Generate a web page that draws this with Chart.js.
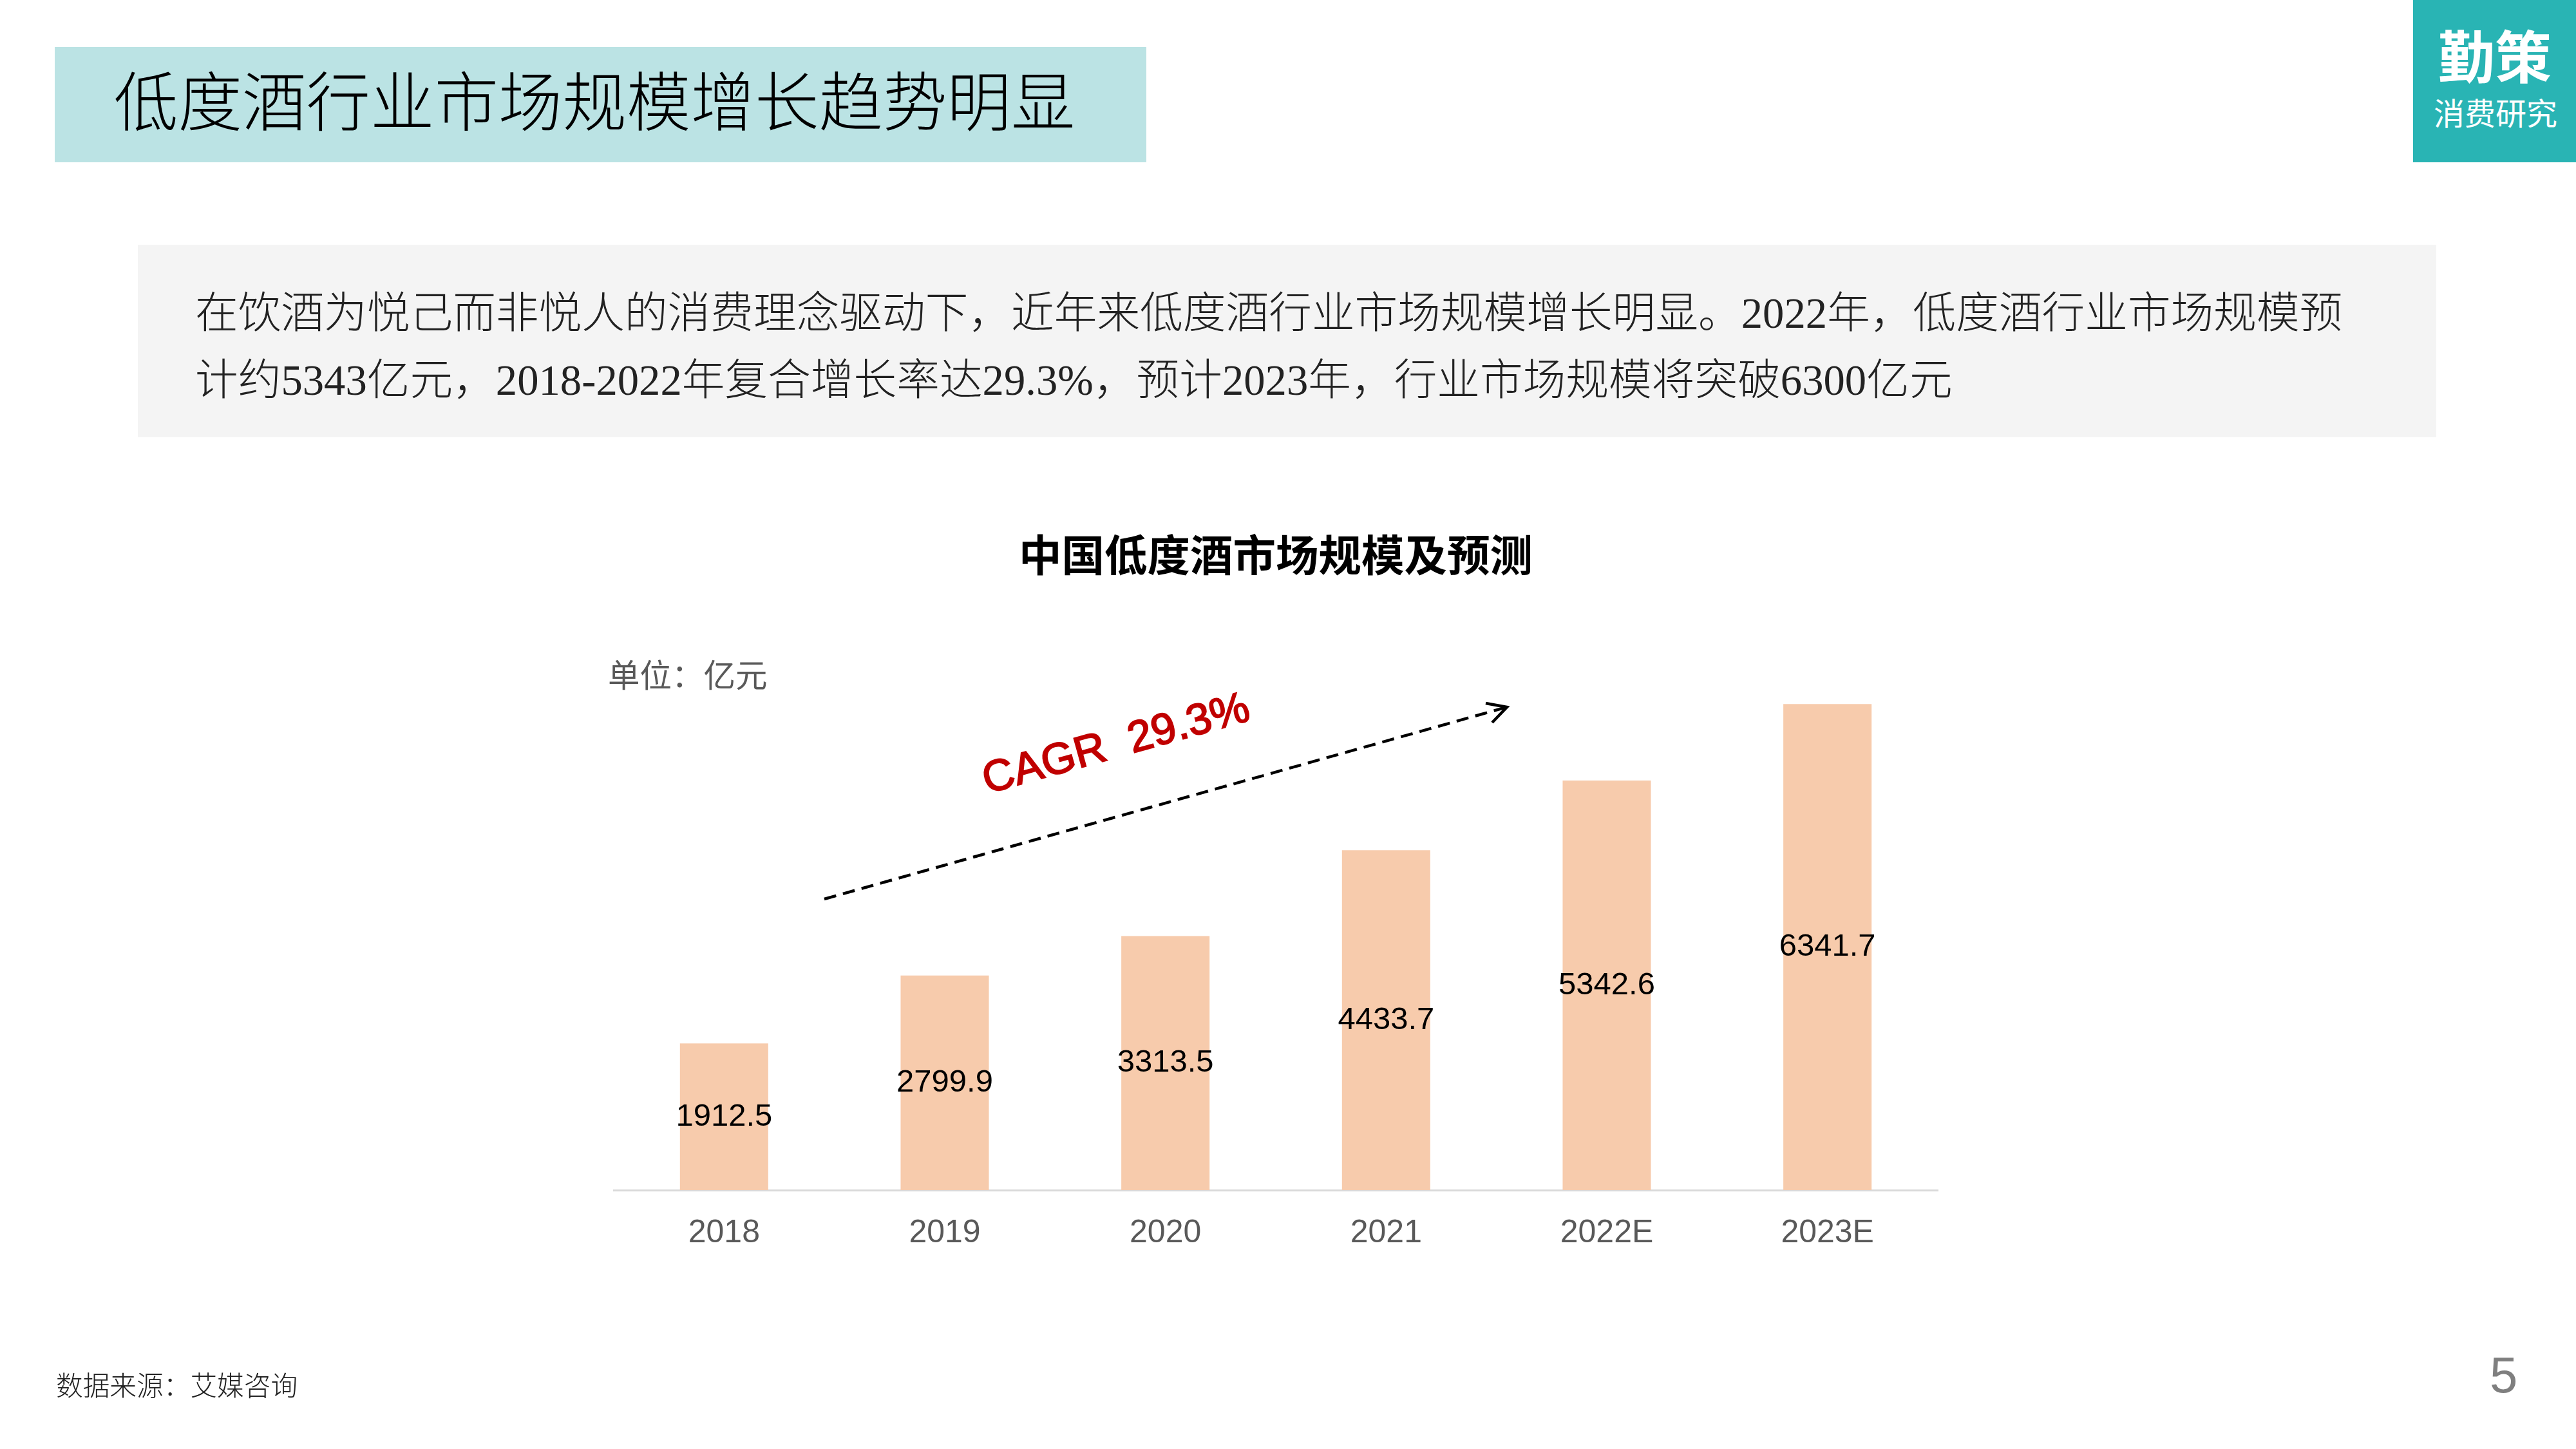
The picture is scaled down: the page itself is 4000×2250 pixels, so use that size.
<!DOCTYPE html>
<html lang="zh-CN">
<head>
    <meta charset="UTF-8">
    <title>低度酒行业市场规模增长趋势明显</title>
    <script src="https://cdn.jsdelivr.net/npm/chart.js"></script>
    <style>
        html, body { margin: 0; padding: 0; background: #fff; }
        body { position: relative; width: 4000px; height: 2250px; overflow: hidden; font-family: "Noto Sans CJK SC", sans-serif; }
        canvas { position: absolute; left: 0; top: 0; }
        .box { position: absolute; }
        .txt { position: absolute; white-space: nowrap; line-height: 1; }
        .body-line { font-family: "Liberation Serif", "Noto Sans CJK SC", serif; font-size: 66.7px; color: #222; font-weight: 300; }
        svg { position: absolute; left: 0; top: 0; }
    </style>
</head>
<body>
    <canvas id="marketChart" width="4000" height="2250"></canvas>

    <!-- slide furniture -->
    <div class="box" style="left:85px;top:73px;width:1695px;height:179px;background:#BBE3E4"></div>
    <div class="txt" style="left:177px;top:103px;font-size:99.5px;color:#000;font-weight:300">低度酒行业市场规模增长趋势明显</div>

    <div class="box" style="left:3747px;top:0;width:253px;height:252px;background:#29B4B4"></div>
    <div class="txt" style="left:3786px;top:39px;font-size:88px;color:#fff;font-weight:700">勤策</div>
    <div class="txt" style="left:3779px;top:149px;font-size:48px;color:#fff">消费研究</div>

    <div class="box" style="left:214px;top:380px;width:3569px;height:299px;background:#F4F4F4"></div>
    <div class="txt body-line" style="left:303px;top:454px">在饮酒为悦己而非悦人的消费理念驱动下，近年来低度酒行业市场规模增长明显。2022年，低度酒行业市场规模预</div>
    <div class="txt body-line" style="left:303px;top:558px">计约5343亿元，2018-2022年复合增长率达29.3%，预计2023年，行业市场规模将突破6300亿元</div>

    <div class="txt" style="left:944px;top:1021px;font-size:49.5px;color:#595959">单位：亿元</div>

    <div class="txt" style="left:1732px;top:1152px;font-size:68px;color:#C00000;font-family:'Liberation Sans';-webkit-text-stroke:2px #C00000;transform:translate(-50%,-50%) rotate(-15.6deg);white-space:pre">CAGR  29.3%</div>

    <svg width="4000" height="2250">
        <line x1="1280" y1="1396" x2="2336" y2="1099" stroke="#000" stroke-width="4.5" stroke-dasharray="19 11"/>
        <polyline points="2307,1092 2340,1098 2317,1122" fill="none" stroke="#000" stroke-width="4.5"/>
    </svg>

    <div class="txt" style="left:87px;top:2129px;font-size:41.7px;color:#222;font-weight:300">数据来源：艾媒咨询</div>
    <div class="txt" style="left:3866px;top:2096px;font-size:78px;color:#7f7f7f;font-family:'Liberation Sans'">5</div>

    <script>
        const categories = ['2018', '2019', '2020', '2021', '2022E', '2023E'];
        const marketSize = [1912.5, 2799.9, 3313.5, 4433.7, 5342.6, 6341.7];
        const chartTitle = '中国低度酒市场规模及预测';
        const yMax = 7000;

        // value labels sit in the middle of each bar
        const barLabels = {
            id: 'barLabels',
            afterDatasetsDraw(chart) {
                const ctx = chart.ctx;
                ctx.save();
                ctx.font = '49px "Liberation Sans"';
                ctx.fillStyle = '#000';
                ctx.textAlign = 'center';
                ctx.textBaseline = 'middle';
                chart.getDatasetMeta(0).data.forEach((bar, i) => {
                    ctx.fillText(marketSize[i].toFixed(1), bar.x, (bar.y + bar.base) / 2);
                });
                ctx.restore();
            }
        };

        new Chart(document.getElementById('marketChart').getContext('2d'), {
            type: 'bar',
            data: {
                labels: categories,
                datasets: [{
                    data: marketSize,
                    backgroundColor: '#F7CBAC',
                    barPercentage: 0.4,
                    categoryPercentage: 1
                }]
            },
            options: {
                responsive: false,
                animation: false,
                devicePixelRatio: 1,
                layout: { padding: { left: 953, right: 991, top: 822, bottom: 276 } },
                plugins: {
                    legend: { display: false },
                    tooltip: { enabled: false },
                    title: {
                        display: true,
                        text: chartTitle,
                        color: '#000',
                        font: { family: '"Noto Sans CJK SC"', size: 66.5, weight: 'bold', lineHeight: 1.2 },
                        padding: { top: 0, bottom: 113 }
                    }
                },
                scales: {
                    x: {
                        grid: { display: false },
                        border: { color: '#D9D9D9', width: 3 },
                        ticks: {
                            color: '#595959',
                            padding: 29,
                            font: { family: '"Liberation Sans"', size: 50 }
                        }
                    },
                    y: { display: false, min: 0, max: yMax }
                }
            },
            plugins: [barLabels]
        });
    </script>
</body>
</html>
